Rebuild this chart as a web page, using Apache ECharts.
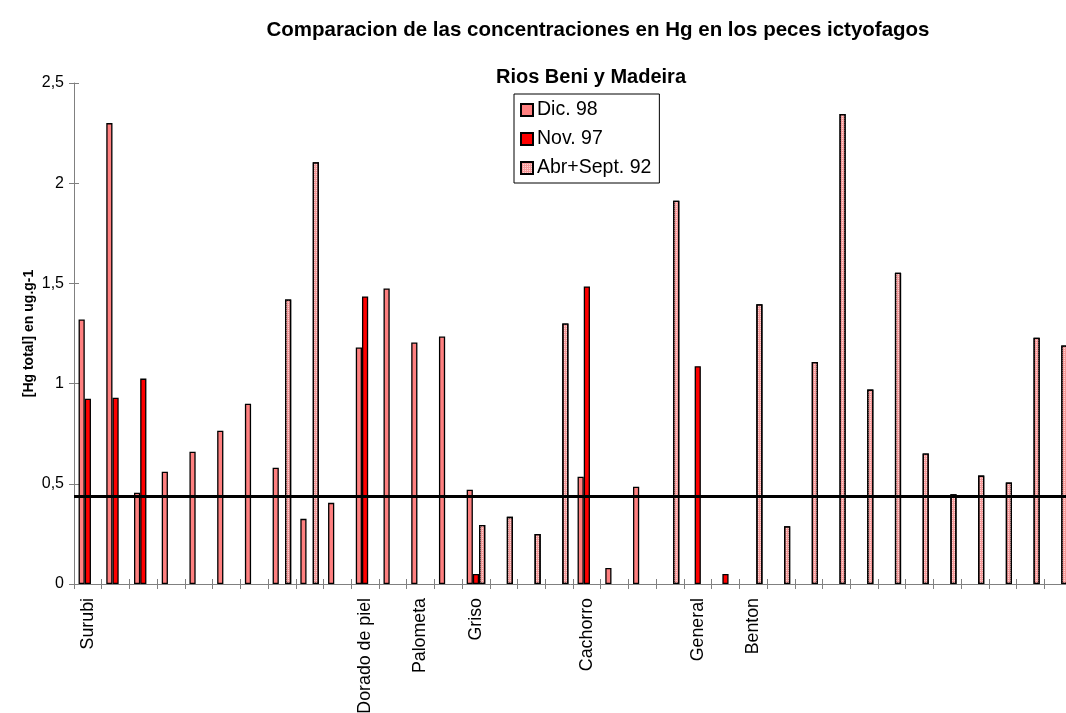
<!DOCTYPE html>
<html>
<head>
<meta charset="utf-8">
<script src="https://cdn.jsdelivr.net/npm/echarts@6/dist/echarts.min.js"></script>
<style>
  html, body { margin: 0; padding: 0; background: #fff; }
  #chart { width: 1066px; height: 713px; }
</style>
</head>
<body>
<div id="chart"></div>
<script>
// categorias (solo algunas llevan nombre)
const categorias = ['Surubi', '', '', '', '', '', '', '', '', '', 'Dorado de piel', '', 'Palometa', '', 'Griso', '', '', '',
  'Cachorro', '', '', '', 'General', '', 'Benton', '', '', '', '', '', '', '', '', '', '', ''];

const dic98 = [1.32, 2.30, 0.455, 0.56, 0.66, 0.765, 0.90, 0.58, 0.325, 0.405, 1.18, 1.475, 1.205, 1.235, 0.47, null, null, null,
  0.535, 0.08, 0.485, null, null, null, null, null, null, null, null, null, null, null, null, null, null, null];
const nov97 = [0.925, 0.93, 1.025, null, null, null, null, null, null, null, 1.435, null, null, null, 0.05, null, null, null,
  1.485, null, null, null, 1.087, 0.05, null, null, null, null, null, null, null, null, null, null, null, null];
const abr92 = [null, null, null, null, null, null, null, 1.42, 2.105, null, null, null, null, null, 0.295, 0.335, 0.25, 1.30,
  null, null, null, 1.913, null, null, 1.396, 0.288, 1.108, 2.345, 0.97, 1.553, 0.651, 0.448, 0.541, 0.507, 1.229, 1.19];

const limite = 0.44;
const yTicks = [0, 0.5, 1, 1.5, 2, 2.5];

const font = 'Liberation Sans, Arial, sans-serif';
const gris = '#808080';

let myChart = echarts.init(document.getElementById('chart'));

let barra = function (name, data, color, decal) {
  return {
    name: name,
    type: 'bar',
    data: data,
    barWidth: 6.2,
    barGap: '0%',
    itemStyle: {
      color: color,
      borderColor: '#000',
      borderWidth: 1.3,
      decal: decal
    },
    emphasis: { disabled: true }
  };
};

let option = {
  animation: false,
  title: [{
    text: 'Comparacion de las concentraciones en Hg en los peces ictyofagos',
    left: 598,
    top: 20,
    padding: 0,
    textAlign: 'center',
    textStyle: { fontFamily: font, fontSize: 20.5, fontWeight: 'bold', color: '#000' }
  }, {
    text: 'Rios Beni y Madeira',
    left: 591,
    top: 67,
    padding: 0,
    textAlign: 'center',
    textStyle: { fontFamily: font, fontSize: 20, fontWeight: 'bold', color: '#000' }
  }],
  legend: {
    orient: 'vertical',
    left: 514,
    top: 94,
    padding: [6, 8, 5, 6],
    itemGap: 9,
    itemWidth: 12,
    itemHeight: 12,
    icon: 'rect',
    borderColor: '#000',
    borderWidth: 1,
    backgroundColor: '#fff',
    textStyle: { fontFamily: font, fontSize: 19.5, color: '#000', padding: [0, 0, 0, -1] },
    data: ['Dic. 98', 'Nov. 97', 'Abr+Sept. 92']
  },
  grid: {
    left: 74,
    right: -6,
    top: 83,
    bottom: 129,
    containLabel: false,
    outerBoundsMode: 'none'
  },
  xAxis: [{
    type: 'category',
    data: categorias,
    axisLine: { lineStyle: { color: gris, width: 1 } },
    axisTick: { show: true, interval: 0, length: 5, lineStyle: { color: gris } },
    axisLabel: {
      interval: 0,
      rotate: 90,
      margin: 14,
      fontFamily: font,
      fontSize: 17.8,
      color: '#000'
    }
  }, {
    type: 'category',
    data: categorias,
    position: 'bottom',
    axisLine: { show: false },
    axisTick: { show: true, inside: true, interval: 0, length: 5, lineStyle: { color: gris } },
    axisLabel: { show: false }
  }],
  yAxis: [{
    type: 'value',
    min: 0,
    max: 2.5,
    interval: 0.5,
    name: '[Hg total] en ug.g-1',
    nameLocation: 'middle',
    nameGap: 38,
    nameMoveOverlap: false,
    nameTextStyle: { fontFamily: font, fontSize: 14, fontWeight: 'bold', color: '#000' },
    axisLine: { show: true, lineStyle: { color: gris, width: 1 } },
    axisTick: { show: true, length: 5, lineStyle: { color: gris } },
    splitLine: { show: false },
    axisLabel: {
      margin: 10,
      fontFamily: font,
      fontSize: 16,
      color: '#000',
      formatter: function (v) { return yTicks.indexOf(v) >= 0 ? String(v).replace('.', ',') : ''; }
    }
  }, {
    type: 'value',
    min: 0,
    max: 2.5,
    interval: 0.5,
    position: 'left',
    axisLine: { show: false },
    axisTick: { show: true, inside: true, length: 5, lineStyle: { color: gris } },
    splitLine: { show: false },
    axisLabel: { show: false }
  }],
  series: [
    barra('Dic. 98', dic98, '#ff8080'),
    barra('Nov. 97', nov97, '#ff0000'),
    Object.assign(barra('Abr+Sept. 92', abr92, '#f59a9a', {
      symbol: 'rect',
      symbolSize: 1,
      dashArrayX: [1, 1],
      dashArrayY: [1, 1],
      color: 'rgba(255, 225, 225, 0.8)'
    }), {
      markLine: {
        silent: true,
        symbol: ['none', 'none'],
        label: { show: false },
        lineStyle: { color: '#000', width: 3, type: 'solid' },
        data: [{ yAxis: limite }]
      }
    })
  ]
};

myChart.setOption(option);
</script>
</body>
</html>
